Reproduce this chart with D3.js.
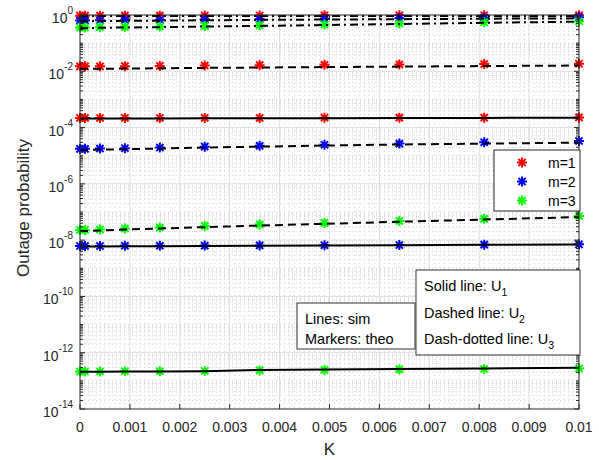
<!DOCTYPE html>
<html>
<head>
<meta charset="utf-8">
<script src="https://cdn.jsdelivr.net/npm/d3@7.9.0/dist/d3.min.js"></script>
<style>
  body { margin: 0; background: #fff; }
  svg { display: block; font-family: "Liberation Sans", Arial, sans-serif; }
</style>
</head>
<body>
<svg id="chart" width="599" height="460"></svg>
<script>
// K values on the x axis
const K = [0, 0.0001, 0.0004, 0.0009, 0.0016, 0.0025, 0.0036, 0.0049, 0.0064, 0.0081, 0.01];

// markers = theory, lines = simulation
// U1 (solid)
const u1m1Theo = [2.2e-4, 2.2e-4, 2.2e-4, 2.2e-4, 2.2e-4, 2.2e-4, 2.2e-4, 2.25e-4, 2.25e-4, 2.25e-4, 2.3e-4];
const u1m1Sim  = [2.1e-4, 2.1e-4, 2.1e-4, 2.1e-4, 2.1e-4, 2.15e-4, 2.15e-4, 2.15e-4, 2.2e-4, 2.2e-4, 2.25e-4];
const u1m2Theo = [6.2e-9, 6.2e-9, 6.2e-9, 6.3e-9, 6.3e-9, 6.4e-9, 6.5e-9, 6.6e-9, 6.7e-9, 6.9e-9, 7.1e-9];
const u1m2Sim  = [6.0e-9, 6.0e-9, 6.0e-9, 6.1e-9, 6.1e-9, 6.2e-9, 6.3e-9, 6.4e-9, 6.6e-9, 6.8e-9, 7.0e-9];
const u1m3Theo = [2.15e-13, 2.15e-13, 2.15e-13, 2.2e-13, 2.2e-13, 2.25e-13, 2.35e-13, 2.45e-13, 2.55e-13, 2.65e-13, 2.75e-13];
const u1m3Sim  = [2.1e-13, 2.1e-13, 2.1e-13, 2.15e-13, 2.15e-13, 2.2e-13, 2.45e-13, 2.55e-13, 2.65e-13, 2.75e-13, 2.9e-13];
// U2 (dashed)
const u2m1Theo = [1.5e-2, 1.5e-2, 1.5e-2, 1.52e-2, 1.55e-2, 1.6e-2, 1.65e-2, 1.7e-2, 1.75e-2, 1.8e-2, 1.85e-2];
const u2m1Sim  = [1.22e-2, 1.22e-2, 1.23e-2, 1.25e-2, 1.28e-2, 1.32e-2, 1.36e-2, 1.41e-2, 1.47e-2, 1.53e-2, 1.6e-2];
const u2m2Theo = [1.75e-5, 1.75e-5, 1.8e-5, 1.85e-5, 1.95e-5, 2.1e-5, 2.25e-5, 2.45e-5, 2.7e-5, 3.0e-5, 3.35e-5];
const u2m2Sim  = [1.6e-5, 1.6e-5, 1.65e-5, 1.7e-5, 1.8e-5, 1.95e-5, 2.1e-5, 2.3e-5, 2.5e-5, 2.7e-5, 2.9e-5];
const u2m3Theo = [2.3e-8, 2.3e-8, 2.4e-8, 2.6e-8, 2.8e-8, 3.2e-8, 3.6e-8, 4.1e-8, 4.8e-8, 5.7e-8, 7.2e-8];
const u2m3Sim  = [2.1e-8, 2.1e-8, 2.2e-8, 2.4e-8, 2.6e-8, 2.9e-8, 3.3e-8, 3.8e-8, 4.5e-8, 5.4e-8, 6.6e-8];
// U3 (dash-dotted)
const u3m1Theo = [0.95, 0.95, 0.95, 0.95, 0.95, 0.96, 0.96, 0.97, 0.97, 0.98, 0.98];
const u3m1Sim  = [0.92, 0.92, 0.92, 0.92, 0.92, 0.93, 0.93, 0.93, 0.93, 0.93, 0.93];
const u3m2Theo = [0.64, 0.64, 0.65, 0.66, 0.67, 0.69, 0.71, 0.74, 0.77, 0.8, 0.84];
const u3m2Sim  = [0.6, 0.6, 0.61, 0.62, 0.63, 0.65, 0.67, 0.69, 0.71, 0.74, 0.76];
const u3m3Theo = [0.36, 0.36, 0.37, 0.38, 0.39, 0.41, 0.43, 0.46, 0.5, 0.55, 0.6];
const u3m3Sim  = [0.34, 0.34, 0.35, 0.36, 0.37, 0.39, 0.41, 0.44, 0.48, 0.53, 0.58];

const mLabels = ["m=1", "m=2", "m=3"];
const mColors = ["#ff0000", "#0000ff", "#00ff00"];
const xTicks = [0, 0.001, 0.002, 0.003, 0.004, 0.005, 0.006, 0.007, 0.008, 0.009, 0.01];
const yTickExps = [0, -2, -4, -6, -8, -10, -12, -14];

const series = [
  { theo: u1m1Theo, sim: u1m1Sim, m: 0, dash: null },
  { theo: u1m2Theo, sim: u1m2Sim, m: 1, dash: null },
  { theo: u1m3Theo, sim: u1m3Sim, m: 2, dash: null },
  { theo: u2m1Theo, sim: u2m1Sim, m: 0, dash: "8,5" },
  { theo: u2m2Theo, sim: u2m2Sim, m: 1, dash: "8,5" },
  { theo: u2m3Theo, sim: u2m3Sim, m: 2, dash: "8,5" },
  { theo: u3m1Theo, sim: u3m1Sim, m: 0, dash: "8,4,2,4" },
  { theo: u3m2Theo, sim: u3m2Sim, m: 1, dash: "8,4,2,4" },
  { theo: u3m3Theo, sim: u3m3Sim, m: 2, dash: "8,4,2,4" },
];

const plotL = 80, plotR = 579, plotT = 15, plotB = 409;
const axisColor = "#262626";

const svg = d3.select("#chart");
const x = d3.scaleLinear().domain([0, 0.01]).range([plotL, plotR]);
const y = d3.scaleLog().domain([1e-14, 1]).range([plotB, plotT]);

// grid
const grid = svg.append("g");
const minorX = d3.range(1, 100).filter(i => i % 10 !== 0).map(i => i * 0.0001);
grid.selectAll(".mx").data(minorX).join("line")
  .attr("x1", d => x(d)).attr("x2", d => x(d))
  .attr("y1", plotT).attr("y2", plotB)
  .attr("stroke", "#d4d4d4").attr("stroke-dasharray", "1,3");

let minorY = [];
for (let e = -14; e < 0; e++) {
  for (let j = 1; j <= 9; j++) {
    if (j === 1 && e % 2 === 0) continue;
    minorY.push(j * Math.pow(10, e));
  }
}
grid.selectAll(".my").data(minorY).join("line")
  .attr("x1", plotL).attr("x2", plotR)
  .attr("y1", d => y(d)).attr("y2", d => y(d))
  .attr("stroke", "#d4d4d4").attr("stroke-dasharray", "1,3");

grid.selectAll(".gx").data(xTicks.slice(1, -1)).join("line")
  .attr("x1", d => x(d)).attr("x2", d => x(d))
  .attr("y1", plotT).attr("y2", plotB)
  .attr("stroke", "#dedede");
grid.selectAll(".gy").data(yTickExps.slice(1, -1)).join("line")
  .attr("x1", plotL).attr("x2", plotR)
  .attr("y1", d => y(Math.pow(10, d))).attr("y2", d => y(Math.pow(10, d)))
  .attr("stroke", "#dedede");

// markers (theory), MATLAB-like '*'
const star = "M-5,0L5,0M0,-5L0,5M-3.6,-3.6L3.6,3.6M-3.6,3.6L3.6,-3.6";
const marks = svg.append("g");
series.forEach(s => {
  marks.append("g").selectAll("path").data(s.theo).join("path")
    .attr("d", star)
    .attr("transform", (d, i) => `translate(${x(K[i])},${y(d)})`)
    .attr("stroke", mColors[s.m]).attr("stroke-width", 2)
    .attr("fill", "none");
});

// lines (simulation)
const line = d3.line().x((d, i) => x(K[i])).y(d => y(d));
series.forEach(s => {
  svg.append("path")
    .attr("d", line(s.sim))
    .attr("fill", "none")
    .attr("stroke", "#000")
    .attr("stroke-width", 2)
    .attr("stroke-dasharray", s.dash);
});

// axes box and ticks
const ax = svg.append("g").attr("stroke", axisColor).attr("fill", "none");
ax.append("rect").attr("x", plotL).attr("y", plotT)
  .attr("width", plotR - plotL).attr("height", plotB - plotT);
xTicks.forEach(t => {
  ax.append("line").attr("x1", x(t)).attr("x2", x(t)).attr("y1", plotB).attr("y2", plotB - 5);
  ax.append("line").attr("x1", x(t)).attr("x2", x(t)).attr("y1", plotT).attr("y2", plotT + 5);
});
yTickExps.forEach(e => {
  const yy = y(Math.pow(10, e));
  ax.append("line").attr("x1", plotL).attr("x2", plotL + 5).attr("y1", yy).attr("y2", yy);
  ax.append("line").attr("x1", plotR).attr("x2", plotR - 5).attr("y1", yy).attr("y2", yy);
});
minorY.forEach(v => {
  const yy = y(v);
  ax.append("line").attr("x1", plotL).attr("x2", plotL + 3).attr("y1", yy).attr("y2", yy);
  ax.append("line").attr("x1", plotR).attr("x2", plotR - 3).attr("y1", yy).attr("y2", yy);
});

// tick labels
const labels = svg.append("g").attr("fill", axisColor).attr("font-size", 14);
xTicks.forEach(t => {
  labels.append("text").attr("x", x(t)).attr("y", plotB + 23)
    .attr("text-anchor", "middle").text(t === 0 ? "0" : String(+t.toFixed(3)));
});
yTickExps.forEach(e => {
  const tx = labels.append("text").attr("x", 73).attr("y", y(Math.pow(10, e)) + 8)
    .attr("text-anchor", "end");
  tx.append("tspan").text("10");
  tx.append("tspan").attr("dy", -9).attr("font-size", 10).text(String(e));
});

svg.append("text").attr("x", (plotL + plotR) / 2).attr("y", 455)
  .attr("text-anchor", "middle").attr("font-size", 17).attr("fill", axisColor).text("K");
svg.append("text").attr("transform", "translate(29,208) rotate(-90)")
  .attr("text-anchor", "middle").attr("font-size", 17).attr("fill", axisColor)
  .text("Outage probability");

// legend
const lg = svg.append("g");
lg.append("rect").attr("x", 494).attr("y", 150).attr("width", 86).attr("height", 61)
  .attr("fill", "#fff").attr("stroke", axisColor);
mLabels.forEach((lab, i) => {
  const ly = 162.5 + i * 19;
  lg.append("path").attr("d", star).attr("transform", `translate(522,${ly})`)
    .attr("stroke", mColors[i]).attr("stroke-width", 2).attr("fill", "none");
  lg.append("text").attr("x", 548).attr("y", ly + 5).attr("font-size", 14)
    .attr("fill", "#000").text(lab);
});

// annotation boxes
const nb = svg.append("g").attr("fill", "#000");
nb.append("rect").attr("x", 297).attr("y", 303).attr("width", 118).attr("height", 46)
  .attr("fill", "#fff").attr("stroke", "#333");
nb.append("text").attr("x", 305).attr("y", 324).attr("font-size", 14.5).text("Lines: sim");
nb.append("text").attr("x", 305).attr("y", 344).attr("font-size", 14.5).text("Markers: theo");

nb.append("rect").attr("x", 416).attr("y", 270).attr("width", 164).attr("height", 85)
  .attr("fill", "#fff").attr("stroke", "#333");
const uLines = [["Solid line: U", "1"], ["Dashed line: U", "2"], ["Dash-dotted line: U", "3"]];
uLines.forEach((u, i) => {
  const t = nb.append("text").attr("x", 424).attr("y", 291 + i * 26.5).attr("font-size", 14.5);
  t.append("tspan").text(u[0]);
  t.append("tspan").attr("dy", 5).attr("font-size", 10.5).text(u[1]);
});
</script>
</body>
</html>
